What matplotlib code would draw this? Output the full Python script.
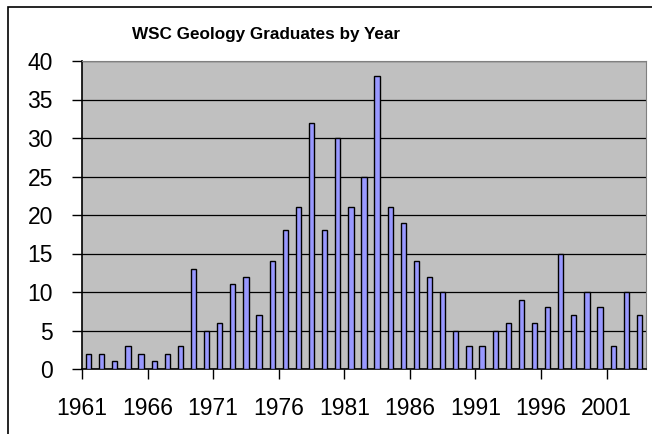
import matplotlib
matplotlib.use("Agg")
import matplotlib.pyplot as plt
import numpy as np
from matplotlib.patches import Rectangle

years = list(range(1961, 2004))
graduates = [2, 2, 1, 3, 2, 1, 2, 3, 13, 5,
             6, 11, 12, 7, 14, 18, 21, 32, 18, 30,
             21, 25, 38, 21, 19, 14, 12, 10, 5, 3,
             3, 5, 6, 9, 6, 8, 15, 7, 10, 8,
             3, 10, 7]
label_years = list(range(1961, 2002, 5))

plt.rcParams['font.family'] = ['Liberation Sans', 'DejaVu Sans']

fig = plt.figure(figsize=(6.52, 4.34), dpi=100)
fig.patch.set_facecolor('white')

# chart area border (runs off the bottom/right of the picture)
fig.patches.append(Rectangle((8 / 652, -0.1), 1.2, 1 - 7 / 434 + 0.1,
                             transform=fig.transFigure, fill=False,
                             edgecolor='black', linewidth=1.2))

ax = fig.add_axes([82 / 652, 1 - 369 / 434, (646 - 82) / 652, (369 - 61) / 434])
ax.set_facecolor('#C0C0C0')

x = np.arange(len(years))
ax.bar(x, graduates, width=0.4, color='#9999FF', edgecolor='black',
       linewidth=1.0, zorder=3)

ax.set_xlim(-0.5, len(years) - 0.5)
ax.set_ylim(0, 40)
ax.set_yticks(range(0, 41, 5))
ax.yaxis.grid(True, color='black', linewidth=0.9, zorder=1)
ax.set_axisbelow(True)

tick_pos = [years.index(y) - 0.5 for y in label_years]
ax.set_xticks(tick_pos)
ax.set_xticklabels([str(y) for y in label_years])

ax.tick_params(axis='y', direction='out', length=7, width=1, labelsize=16.5, pad=14)
ax.tick_params(axis='x', direction='out', length=7, width=1, labelsize=16.5, pad=13)

for side in ['top', 'right']:
    ax.spines[side].set_color('#808080')
for side in ['left', 'bottom']:
    ax.spines[side].set_color('black')
    ax.spines[side].set_linewidth(1.2)

fig.text(266 / 652, 1 - 35 / 434, 'WSC Geology Graduates by Year',
         ha='center', va='center', fontsize=12.3, fontweight='bold')

fig.savefig('out.png', dpi=100)
